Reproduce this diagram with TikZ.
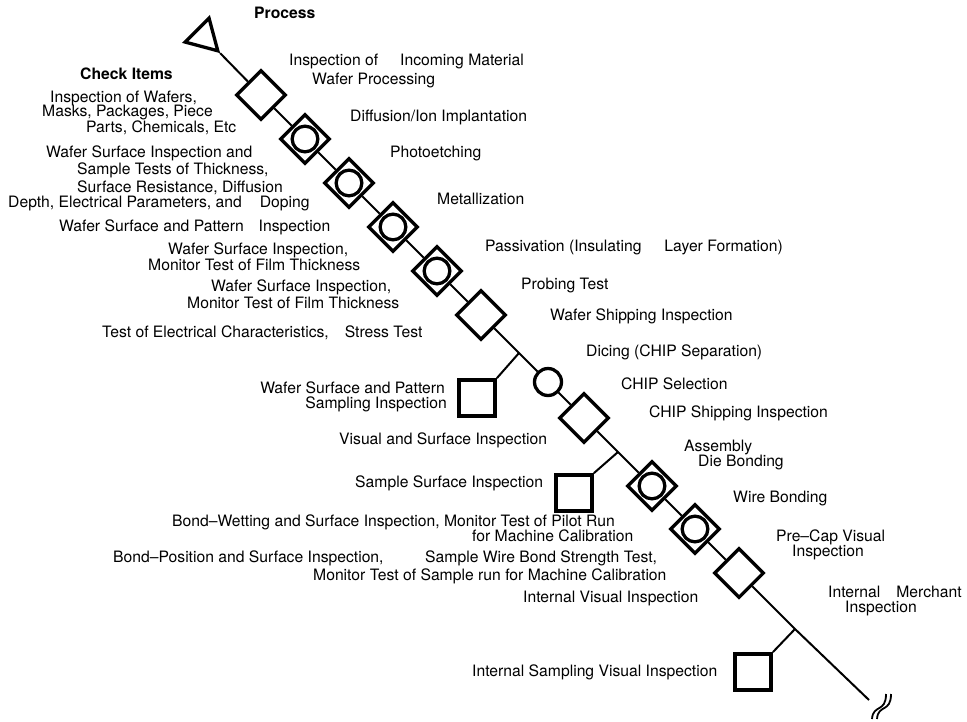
\documentclass[tikz,border=0pt]{standalone}
\usepackage{fontspec}
\setmainfont{TeX Gyre Heros}
\usetikzlibrary{shapes.geometric}

\begin{document}
\begin{tikzpicture}[
  x=1pt,y=-1pt,
  font=\fontsize{15.7}{16}\selectfont,
  lbl/.style={anchor=west,inner sep=0pt,text height=12pt,text depth=3.3pt},
  hd/.style={lbl,font=\fontsize{15.7}{16}\selectfont\bfseries},
  opr/.style={draw,diamond,aspect=1,line width=3.3pt,fill=white,inner sep=0pt,minimum size=50pt},
  rnd/.style={draw,circle,line width=3.3pt,fill=white,inner sep=0pt,minimum size=25.7pt},
  chkbox/.style={draw,line width=3.8pt,fill=white,inner sep=0pt,minimum size=36pt},
  stor/.style={draw,regular polygon,regular polygon sides=3,rotate=-135,line width=3.3pt,inner sep=0pt,minimum size=39pt},
  ln/.style={line width=2pt},
  brkln/.style={line width=1.8pt}
]
\useasboundingbox (0,0) rectangle (967,721);

% process chain
\node[stor] (tri) at (204,37) {};
\node[opr] (d1) at (261,95) {};
\node[opr] (d2) at (305,139) {};
\node[rnd] (d2c) at (305,139) {};
\node[opr] (d3) at (349,183) {};
\node[rnd] (d3c) at (349,183) {};
\node[opr] (d4) at (393,227) {};
\node[rnd] (d4c) at (393,227) {};
\node[opr] (d5) at (437,271) {};
\node[rnd] (d5c) at (437,271) {};
\node[opr] (d6) at (481,315) {};
\coordinate (j1) at (519,353);
\node[rnd,minimum size=27pt] (c1) at (548,382) {};
\node[opr] (d7) at (584,418) {};
\coordinate (j2) at (618,452);
\node[opr] (d8) at (652,486) {};
\node[rnd] (d8c) at (652,486) {};
\node[opr] (d9) at (695,529) {};
\node[rnd] (d9c) at (695,529) {};
\node[opr] (d10) at (739,573) {};
\coordinate (j3) at (795,629);
\coordinate (brk) at (869,700);

% sampling inspections
\node[chkbox] (s1) at (477,398) {};
\node[chkbox] (s2) at (574,493) {};
\node[chkbox] (s3) at (753,672) {};

% lines
\draw[ln] (tri.corner 1) -- (d1) -- (d2) -- (d3) -- (d4) -- (d5) -- (d6) -- (j1) -- (c1) -- (d7) -- (j2)
  -- (d8) -- (d9) -- (d10) -- (j3) -- (brk);
\draw[ln] (j1) -- (s1.north east);
\draw[ln] (j2) -- (s2.north east);
\draw[ln] (j3) -- (s3.north east);
% break mark
\draw[brkln] (872,719) .. controls (873,704) and (886,713) .. (886,694);
\draw[brkln] (877,719) .. controls (878,704) and (891,713) .. (891,694);

% process names
\node[hd] (proc) at (254,14) {Process};
\node[lbl] (inc) at (289,61) {Inspection of\hspace{22pt}Incoming Material};
\node[lbl] (wproc) at (312,80) {Wafer Processing};
\node[lbl] (diff) at (350,117) {Diffusion/Ion Implantation};
\node[lbl] (photo) at (390,153) {Photoetching};
\node[lbl] (metal) at (437,200) {Metallization};
\node[lbl] (pass) at (485,247) {Passivation (Insulating\hspace{23pt}Layer Formation)};
\node[lbl] (probe) at (521,285) {Probing Test};
\node[lbl] (wship) at (550,316) {Wafer Shipping Inspection};
\node[lbl] (dice) at (586,352) {Dicing (CHIP Separation)};
\node[lbl] (csel) at (621,385) {CHIP Selection};
\node[lbl] (cship) at (649,413) {CHIP Shipping Inspection};
\node[lbl] (asm) at (684,447) {Assembly};
\node[lbl] (die) at (698,462) {Die Bonding};
\node[lbl] (wire) at (733,498) {Wire Bonding};
\node[lbl] (pcap1) at (776,537) {Pre–Cap Visual};
\node[lbl] (pcap2) at (792,552) {Inspection};
\node[lbl] (merch1) at (828,593) {Internal\hspace{16pt}Merchant};
\node[lbl] (merch2) at (845,608) {Inspection};

% check items
\node[hd] (chk) at (80,75) {Check Items};
\node[lbl] (c1a) at (50,98) {Inspection of Wafers,};
\node[lbl] (c1b) at (42,112) {Masks, Packages, Piece};
\node[lbl] (c1c) at (86,128) {Parts, Chemicals, Etc};
\node[lbl] (c2a) at (46,153) {Wafer Surface Inspection and};
\node[lbl] (c2b) at (77,170) {Sample Tests of Thickness,};
\node[lbl] (c2c) at (77,188) {Surface Resistance, Diffusion};
\node[lbl] (c2d) at (8,203) {Depth, Electrical Parameters, and\hspace{18pt}Doping};
\node[lbl] (c3) at (59,227) {Wafer Surface and Pattern\hspace{15pt}Inspection};
\node[lbl] (c4a) at (168,250) {Wafer Surface Inspection,};
\node[lbl] (c4b) at (148,266) {Monitor Test of Film Thickness};
\node[lbl] (c5a) at (211,287) {Wafer Surface Inspection,};
\node[lbl] (c5b) at (187,304) {Monitor Test of Film Thickness};
\node[lbl] (c6) at (102,333) {Test of Electrical Characteristics,\hspace{16pt}Stress Test};
\node[lbl,anchor=east] (c7a) at (445,389) {Wafer Surface and Pattern};
\node[lbl,anchor=east] (c7b) at (447,404) {Sampling Inspection};
\node[lbl] (c8) at (339,440) {Visual and Surface Inspection};
\node[lbl] (c9) at (355,483) {Sample Surface Inspection};
\node[lbl] (c10a) at (172,522) {Bond–Wetting and Surface Inspection, Monitor Test of Pilot Run};
\node[lbl] (c10b) at (472,537) {for Machine Calibration};
\node[lbl] (c11a) at (113,558) {Bond–Position and Surface Inspection,};
\node[lbl] (c11b) at (425,558) {Sample Wire Bond Strength Test,};
\node[lbl] (c11c) at (313,576) {Monitor Test of Sample run for Machine Calibration};
\node[lbl] (c12) at (523,598) {Internal Visual Inspection};
\node[lbl] (c13) at (472,672) {Internal Sampling Visual Inspection};
\end{tikzpicture}
\end{document}
